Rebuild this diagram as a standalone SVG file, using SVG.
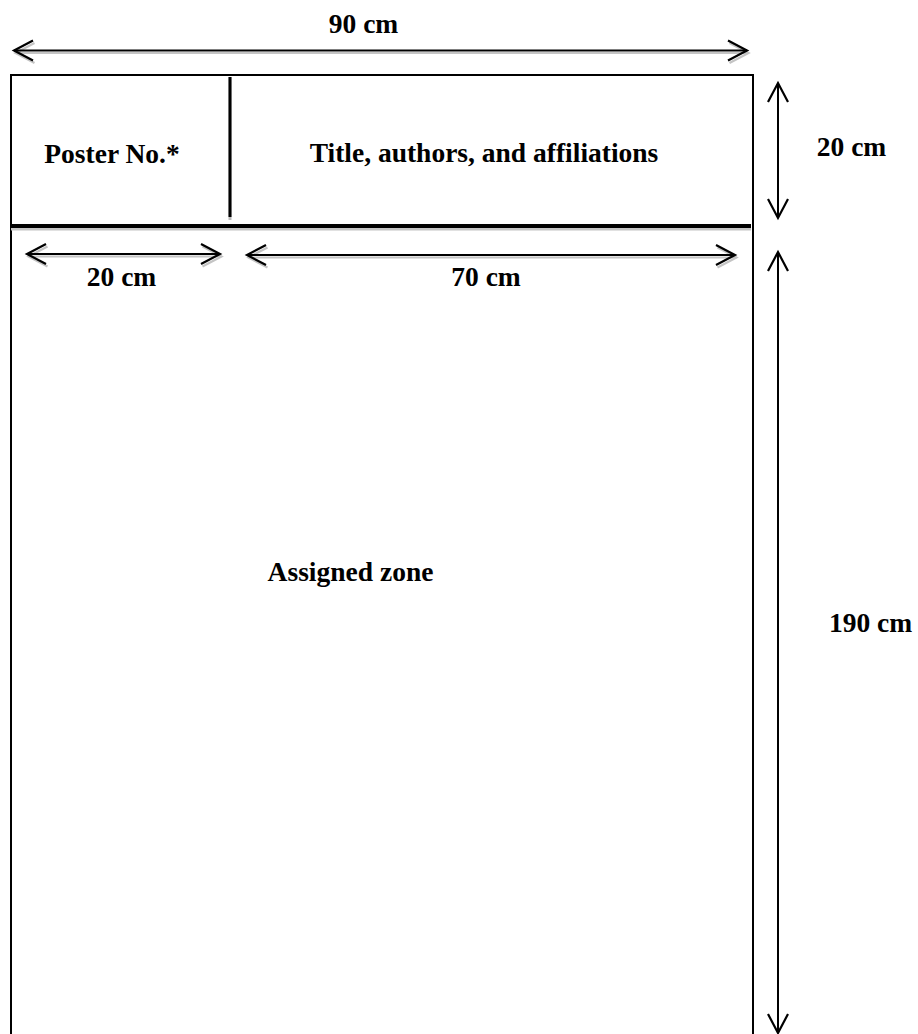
<svg xmlns="http://www.w3.org/2000/svg" width="918" height="1034" viewBox="0 0 918 1034">
<style>
text{font-family:"Liberation Serif","DejaVu Serif",serif;font-weight:bold;font-size:27.5px;fill:#000;text-anchor:middle}
.ln{stroke:#000;stroke-width:2;fill:none}
.sh{stroke:#c4c4c4;stroke-width:2;fill:none}
.ar{marker-start:url(#hb);marker-end:url(#hb)}
.ars{marker-start:url(#hg);marker-end:url(#hg)}
</style>
<defs>
<marker id="hb" markerUnits="userSpaceOnUse" viewBox="-22 -12 26 24" refX="0" refY="0" markerWidth="26" markerHeight="24" orient="auto-start-reverse" overflow="visible">
<path d="M-19,-10 L0,0 L-19,10" fill="none" stroke="#000" stroke-width="2.2"/>
</marker>
<marker id="hg" markerUnits="userSpaceOnUse" viewBox="-22 -12 26 24" refX="0" refY="0" markerWidth="26" markerHeight="24" orient="auto-start-reverse" overflow="visible">
<path d="M-19,-10 L0,0 L-19,10" fill="none" stroke="#c4c4c4" stroke-width="2.2"/>
</marker>
</defs>
<rect width="918" height="1034" fill="#fff"/>
<g id="poster">
<path d="M11,1034 V75 H753 V1034" class="ln"/>
<line x1="11" y1="229" x2="751" y2="229" stroke="#c4c4c4" stroke-width="3"/>
<line x1="11" y1="226" x2="751" y2="226" stroke="#000" stroke-width="4"/>
<line x1="230" y1="77" x2="230" y2="220" stroke="#bbb" stroke-width="3"/>
<line x1="230" y1="77" x2="230" y2="217" stroke="#000" stroke-width="3"/>
</g>
<g id="poster-no"><text x="112" y="163">Poster No.*</text></g>
<g id="title"><text x="484" y="162">Title, authors, and affiliations</text></g>
<g id="assigned-zone"><text x="350.5" y="581">Assigned zone</text></g>
<g id="labels">
<text x="363.5" y="33">90 cm</text>
<text x="851.5" y="156">20 cm</text>
<text x="121.5" y="286">20 cm</text>
<text x="486" y="286">70 cm</text>
<text x="870.5" y="632">190 cm</text>
</g>
<g id="connectors">
<g transform="translate(1.5,2.5)">
<line x1="14" y1="50.5" x2="747" y2="50.5" class="sh ars"/>
<line x1="27" y1="254" x2="220" y2="254" class="sh ars"/>
<line x1="247" y1="255" x2="735" y2="255" class="sh ars"/>
</g>
<line x1="14" y1="50.5" x2="747" y2="50.5" class="ln ar"/>
<line x1="27" y1="254" x2="220" y2="254" class="ln ar"/>
<line x1="247" y1="255" x2="735" y2="255" class="ln ar"/>
<line x1="778" y1="83" x2="778" y2="218" class="ln ar"/>
<line x1="778" y1="252" x2="778" y2="1033" class="ln ar"/>
</g>
</svg>
